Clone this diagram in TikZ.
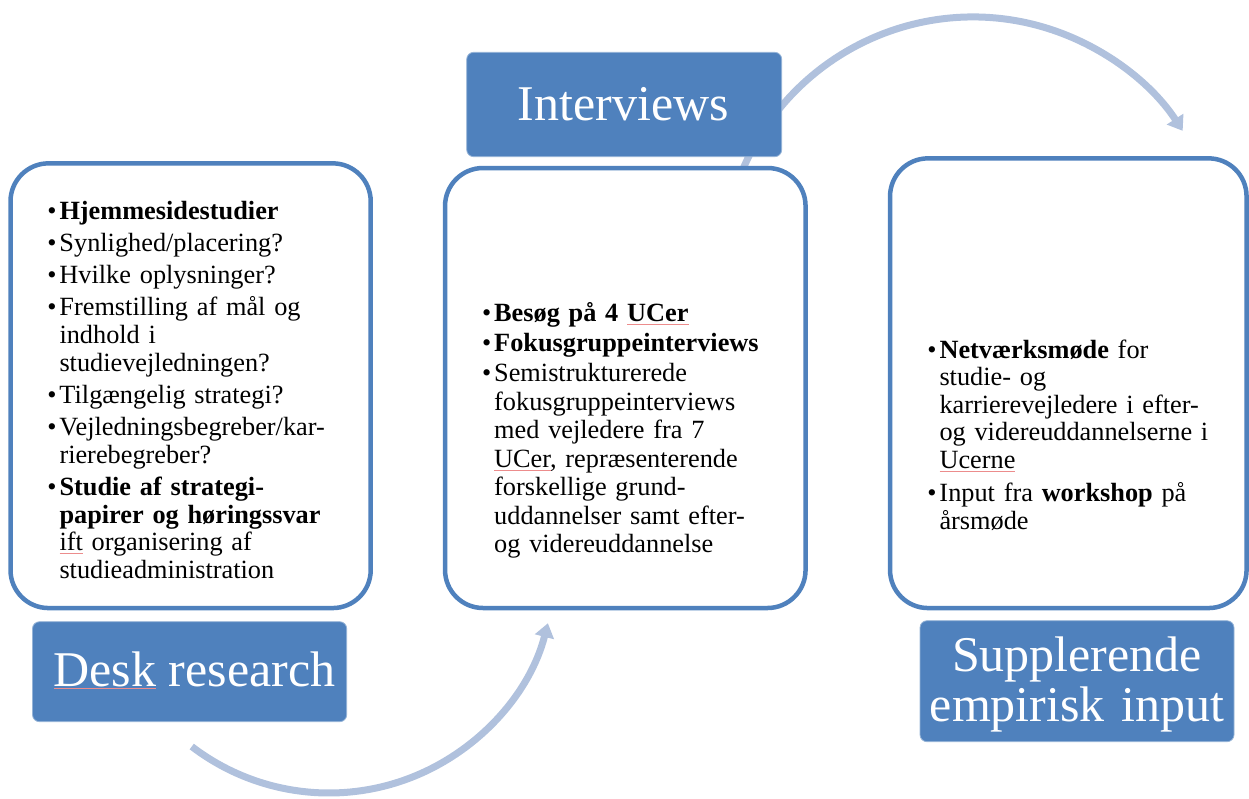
\documentclass[tikz,border=0pt]{standalone}
\usepackage{fontspec}
\setmainfont{Liberation Serif}
\usetikzlibrary{arrows.meta}

\definecolor{accent}{RGB}{79,129,189}
\definecolor{accentedge}{RGB}{150,180,215}
\definecolor{flowarc}{RGB}{176,193,221}
\definecolor{spellred}{RGB}{236,140,140}

% word with a thin red spell-check underline
\newsavebox\splbox
\newcommand\spl[1]{\sbox\splbox{#1}\rlap{\color{spellred}\rule[-3pt]{\wd\splbox}{0.7pt}}#1}
% bullet item with hanging indent
\newcommand\bitem{\noindent\hangindent=12.2pt\hangafter=1\makebox[12.2pt][l]{\textbullet}}
\newcommand\itemfont[1]{\fontsize{26.3}{#1}\selectfont}

\begin{document}
\begin{tikzpicture}[x=1pt,y=-1pt,
  panel/.style={rectangle, draw=accent, line width=4.5pt, fill=white,
    rounded corners=38pt, inner sep=0pt},
  tag/.style={rectangle, fill=accent, draw=accentedge, line width=0.8pt,
    rounded corners=7pt, inner sep=0pt},
  tagtext/.style={text=white, inner sep=0pt, font=\fontsize{50}{50}\selectfont},
  items/.style={anchor=base west, inner sep=0pt, text width=400pt},
  flow/.style={draw=flowarc, line width=7pt,
    -{Triangle[width=19pt,length=14pt]}}]

\useasboundingbox (0,0) rectangle (1249,798);

% circular flow arrows (drawn first, the panels cover their hidden parts)
\coordinate (topturn) at (973,267);
\coordinate (lowturn) at (329,567);
\draw[flow] ([shift={(-160:250)}]topturn) arc[start angle=-160, end angle=-33, radius=250];
\draw[flow] ([shift={(127.4:226)}]lowturn) arc[start angle=127.4, end angle=14.4, radius=226];

% content panels
\node[panel, minimum width=360.2pt, minimum height=444.7pt] (deskpanel) at (190.6,385.7) {};
\node[panel, minimum width=360.5pt, minimum height=440pt] (interpanel) at (625.3,388) {};
\node[panel, minimum width=356.5pt, minimum height=449.7pt] (supppanel) at (1068.3,383.2) {};

% title tags
\node[tag, minimum width=314.2pt, minimum height=100pt] (desktag) at (189.6,671.7) {};
\node[tag, minimum width=315pt, minimum height=104.4pt] (intertag) at (624.2,104.5) {};
\node[tag, minimum width=314pt, minimum height=121pt] (supptag) at (1077,681.2) {};

\node[tagtext, anchor=base] (desklabel) at (194.5,686) {\spl{Desk} research};
\node[tagtext, anchor=base] (interlabel) at (623.5,120) {Interviews};
\node[tagtext, anchor=base, text width=314pt, align=center] (supplabel) at (1077,671.7)
  {Supplerende\\empirisk input};

% panel texts
\node[items, font=\itemfont{27.6}] (deskitems) at (47.1,219) {\parskip=4.7pt
\bitem\textbf{Hjemmesidestudier}\par
\bitem Synlighed/placering?\par
\bitem Hvilke oplysninger?\par
\bitem Fremstilling af mål og\newline indhold i\newline studievejledningen?\par
\bitem Tilgængelig strategi?\par
\bitem Vejledningsbegreber/kar-\newline rierebegreber?\par
\bitem\textbf{Studie af strategi-\newline papirer og høringssvar}\newline \spl{ift} organisering af\newline studieadministration\par};

\node[items, font=\itemfont{28.5}] (interitems) at (481.8,321.7) {\parskip=1.5pt
\bitem\textbf{Besøg på 4 \spl{UCer}}\par
\bitem\textbf{Fokusgruppeinterviews}\par
\bitem Semistrukturerede\newline fokusgruppeinterviews\newline med vejledere fra 7\newline \spl{UCer}, repræsenterende\newline forskellige grund-\newline uddannelser samt efter-\newline og videreuddannelse\par};

\node[items, font=\itemfont{27.5}] (suppitems) at (927.1,358.3) {\parskip=5.8pt
\bitem\textbf{Netværksmøde} for\newline studie- og\newline karrierevejledere i efter-\newline og videreuddannelserne i\newline \spl{Ucerne}\par
\bitem Input fra \textbf{workshop} på\newline årsmøde\par};

\end{tikzpicture}
\end{document}
